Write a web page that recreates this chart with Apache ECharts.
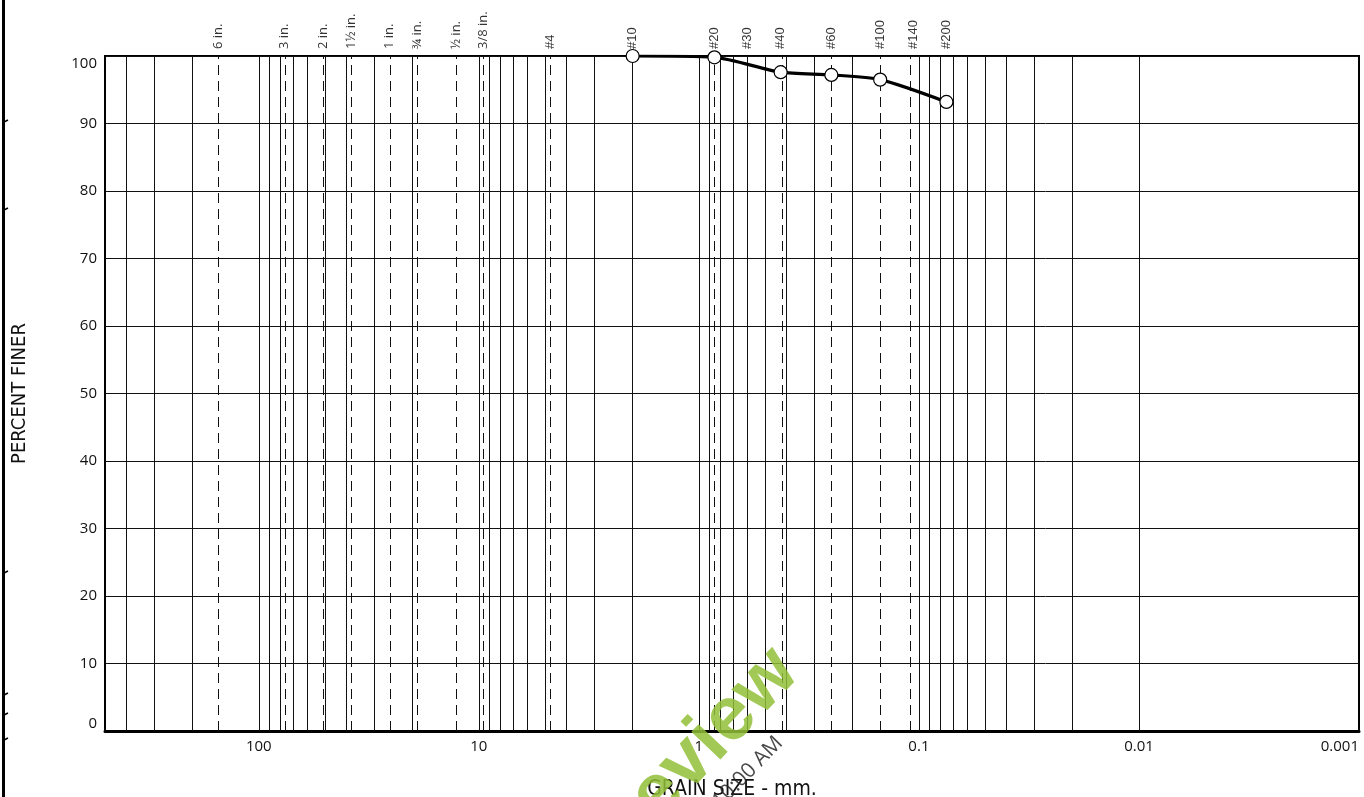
<!DOCTYPE html>
<html>
<head>
<meta charset="utf-8">
<title>Grain Size Distribution</title>
<script src="https://cdn.jsdelivr.net/npm/echarts@6/dist/echarts.min.js"></script>
<style>
  html, body { margin: 0; padding: 0; background: #fff; }
  #chart { width: 1364px; height: 797px; }
</style>
</head>
<body>
<div id="chart"></div>
<script>
// Sieve openings (mm) with their standard designations
const sieveLabels = ['6 in.', '3 in.', '2 in.', '1½ in.', '1 in.', '¾ in.', '½ in.', '3/8 in.',
  '#4', '#10', '#20', '#30', '#40', '#60', '#100', '#140', '#200'];
const sieveSizes = [152.4, 76.2, 50.8, 38.1, 25.4, 19.05, 12.7, 9.525,
  4.75, 2.0, 0.85, 0.6, 0.425, 0.25, 0.15, 0.106, 0.075];

// Test results: grain size (mm) and percent finer
const testSizes = [2.0, 0.85, 0.425, 0.25, 0.15, 0.075];
const percentFiner = [100, 99.8, 97.6, 97.2, 96.5, 93.2];

// Axis extents and labelled decades
const xMin = 0.001, xMax = 500;
const decades = [0.001, 0.01, 0.1, 1, 10, 100];
const yTicks = [0, 10, 20, 30, 40, 50, 60, 70, 80, 90, 100];

// Log-cycle grid: 1..9 within each decade
const gridValues = [];
decades.forEach(d => {
  for (let k = 1; k <= 9; k++) {
    const v = k * d;
    if (v > xMin * 1.0001 && v < xMax * 0.9999) gridValues.push(v);
  }
});

const chart = echarts.init(document.getElementById('chart'), null, { renderer: 'canvas' });

const fmtX = v => {
  const hit = decades.find(d => Math.abs(d - v) / d < 1e-6);
  if (hit === undefined) return '';
  return hit >= 1 ? String(Math.round(hit)) : String(hit);
};

const option = {
  animation: false,
  backgroundColor: '#fff',
  grid: {
    left: 105, right: 5, top: 56, bottom: 66,
    containLabel: false, outerBoundsMode: 'none',
    show: true, borderColor: '#000', borderWidth: 2, backgroundColor: 'transparent'
  },
  xAxis: {
    type: 'log', logBase: 10, min: xMin, max: xMax, inverse: true,
    name: 'GRAIN SIZE - mm.', nameLocation: 'middle', nameGap: 48,
    nameTextStyle: { fontFamily: 'Liberation Sans Narrow, DejaVu Sans Condensed, sans-serif', fontSize: 21, color: '#111' },
    axisLine: { show: true, lineStyle: { color: '#000', width: 3 } },
    axisTick: { show: false },
    splitLine: { show: false },
    axisLabel: {
      show: true, margin: 8, fontFamily: 'Open Sans, sans-serif', fontSize: 15, color: '#111',
      showMaxLabel: false, alignMinLabel: 'right', formatter: fmtX
    }
  },
  yAxis: {
    type: 'value', min: 0, max: 100, interval: 10,
    name: 'PERCENT FINER', nameLocation: 'middle', nameGap: 75, nameRotate: 90,
    nameTextStyle: { fontFamily: 'Liberation Sans Narrow, DejaVu Sans Condensed, sans-serif', fontSize: 20, color: '#111' },
    axisLine: { show: true, lineStyle: { color: '#000', width: 2 } },
    axisTick: { show: false },
    axisLabel: { margin: 8, fontFamily: 'Open Sans, sans-serif', fontSize: 15, color: '#111',
      customValues: yTicks, verticalAlignMaxLabel: 'top', verticalAlignMinLabel: 'bottom' },
    splitLine: { show: true, lineStyle: { color: '#111', width: 1 } }
  },
  series: [
    {
      // solid log-cycle grid lines
      type: 'scatter', data: [], silent: true, z: 1,
      markLine: {
        silent: true, symbol: ['none', 'none'], animation: false,
        label: { show: false },
        lineStyle: { color: '#111', width: 1, type: 'solid' },
        emphasis: { disabled: true },
        data: gridValues.map(v => ({ xAxis: v }))
      }
    },
    {
      // sieve openings: dashed lines with designations above the frame
      type: 'scatter', silent: true, z: 2, symbolSize: 0,
      data: sieveSizes.map((s, i) => ({
        value: [s, 100],
        label: {
          formatter: sieveLabels[i],
          fontFamily: sieveLabels[i].startsWith('#') ? 'Liberation Sans, sans-serif' : 'Open Sans, sans-serif'
        }
      })),
      label: {
        show: true, position: 'top', distance: 7, rotate: 90,
        align: 'left', verticalAlign: 'middle',
        fontSize: 13, color: '#000'
      },
      markLine: {
        silent: true, symbol: ['none', 'none'], animation: false,
        label: { show: false },
        lineStyle: { color: '#111', width: 1, type: [10, 6] },
        emphasis: { disabled: true },
        data: sieveSizes.map(v => ({ xAxis: v }))
      }
    },
    {
      // gradation curve
      type: 'line', z: 5,
      data: testSizes.map((s, i) => [s, percentFiner[i]]),
      smooth: 0.25,
      lineStyle: { color: '#000', width: 3.2 },
      symbol: 'circle', symbolSize: 13,
      itemStyle: { color: '#fff', borderColor: '#000', borderWidth: 1.2 },
      emphasis: { disabled: true }
    }
  ],
  graphic: [
    // binding edge on the left of the sheet
    { type: 'rect', left: 2, top: 0, shape: { width: 3, height: 797 }, style: { fill: '#000' }, silent: true },
    ...[122, 210, 573, 695, 715, 740].map(y => ({
      type: 'line', shape: { x1: 4, y1: y, x2: 8, y2: y - 2 }, style: { stroke: '#000', lineWidth: 1.5 }, silent: true
    })),
    // review stamp
    {
      type: 'text', x: 786, y: 660, rotation: 0.81, silent: true, z: 100,
      style: {
        text: 'Preview', align: 'right', verticalAlign: 'middle',
        font: 'bold 76px "Liberation Sans", Arial, sans-serif', fill: 'rgba(146,192,56,0.85)'
      }
    },
    {
      type: 'text', x: 787, y: 747, rotation: 0.8, silent: true, z: 100,
      style: {
        text: '11/12/2019 10:00 AM', align: 'right', verticalAlign: 'bottom',
        font: '21px "Open Sans", sans-serif', fill: 'rgba(40,40,40,0.85)'
      }
    }
  ]
};

chart.setOption(option);
</script>
</body>
</html>
